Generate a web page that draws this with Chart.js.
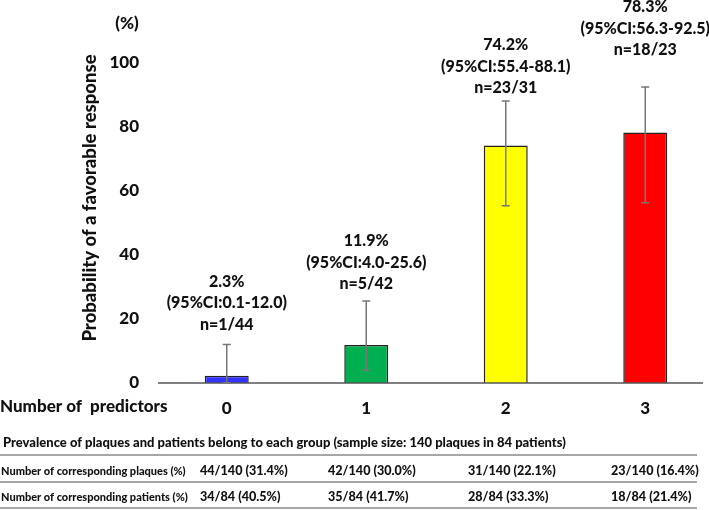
<!DOCTYPE html>
<html lang="en">
<head>
  <meta charset="UTF-8" />
  <title>Probability of a favorable response by number of predictors</title>
  <script src="https://cdn.jsdelivr.net/npm/chart.js"></script>
  <style>
    html, body { margin: 0; padding: 0; background: #fff; overflow: hidden; }
    .wrap { position: absolute; left: 0; top: 0; width: 715px; height: 510px; }
  </style>
</head>
<body>
  <div class="wrap">
    <canvas id="predChart" width="715" height="510"></canvas>
  </div>

  <script>
    // chart values
    const categories = ['0', '1', '2', '3'];
    const probability = [2.3, 11.9, 74.2, 78.3];
    const ciLow = [0.1, 4.0, 55.4, 56.3];
    const ciHigh = [12.0, 25.6, 88.1, 92.5];
    const responders = ['n=1/44', 'n=5/42', 'n=23/31', 'n=18/23'];

    // table under the chart
    const tableTitle = 'Prevalence of plaques and patients belong to each group (sample size: 140 plaques in 84 patients)';
    const rowLabels = ['Number of corresponding plaques (%)', 'Number of corresponding patients (%)'];
    const plaqueCounts = ['44/140 (31.4%)', '42/140 (30.0%)', '31/140 (22.1%)', '23/140 (16.4%)'];
    const patientCounts = ['34/84 (40.5%)', '35/84 (41.7%)', '28/84 (33.3%)', '18/84 (21.4%)'];

    const barColors = ['#3333ff', '#00b050', '#ffff00', '#ff0000'];
    const FONT = 'Lato, "DejaVu Sans", sans-serif';
    const INK = '#111';
    const W = '900';

    // how far each annotation block sits above its error bar (px)
    const labelLift = [20, 17, 13, 37];

    const extras = {
      id: 'extras',
      afterDatasetsDraw(chart) {
        const { ctx, chartArea } = chart;
        const x = chart.scales.x, y = chart.scales.y;

        // x axis line
        ctx.save();
        ctx.strokeStyle = '#555';
        ctx.lineWidth = 1.5;
        ctx.beginPath();
        ctx.moveTo(chartArea.left + 1, chartArea.bottom);
        ctx.lineTo(chartArea.right - 12, chartArea.bottom);
        ctx.stroke();

        // error bars
        ctx.strokeStyle = '#777';
        ctx.lineWidth = 1.5;
        categories.forEach((c, i) => {
          const cx = x.getPixelForValue(i);
          const top = y.getPixelForValue(ciHigh[i]);
          const bot = y.getPixelForValue(ciLow[i]);
          ctx.beginPath();
          ctx.moveTo(cx, top); ctx.lineTo(cx, bot);
          ctx.moveTo(cx - 4, top); ctx.lineTo(cx + 4, top);
          ctx.moveTo(cx - 4, bot); ctx.lineTo(cx + 4, bot);
          ctx.stroke();

          // annotation
          const lines = [
            probability[i].toFixed(1) + '%',
            '(95%CI:' + ciLow[i].toFixed(1) + '-' + ciHigh[i].toFixed(1) + ')',
            responders[i]
          ];
          ctx.fillStyle = INK;
          ctx.font = W + ' 16px ' + FONT;
          ctx.textAlign = 'center';
          ctx.textBaseline = 'middle';
          const last = top - labelLift[i];
          lines.forEach((t, k) => ctx.fillText(t, cx, last - (2 - k) * 21.5));
        });

        // axis captions
        ctx.fillStyle = INK;
        ctx.font = W + ' 17px ' + FONT;
        ctx.textAlign = 'center';
        ctx.fillText('(%)', 127, 24);
        ctx.textAlign = 'left';
        ctx.fillText('Number of  predictors', 0, 407);

        ctx.save();
        ctx.font = W + ' 18.5px ' + FONT;
        ctx.translate(90, 198);
        ctx.rotate(-Math.PI / 2);
        ctx.textAlign = 'center';
        ctx.fillText('Probability of a favorable response', 0, 0);
        ctx.restore();

        // table
        ctx.textAlign = 'left';
        ctx.font = W + ' 13px ' + FONT;
        ctx.fillText(tableTitle, 3, 443);

        ctx.strokeStyle = '#888';
        ctx.lineWidth = 1.5;
        [455, 482, 508].forEach(ly => {
          ctx.beginPath();
          ctx.moveTo(0, ly); ctx.lineTo(697, ly);
          ctx.stroke();
        });

        const colX = [200, 328, 468, 611];
        [plaqueCounts, patientCounts].forEach((row, r) => {
          const ry = r === 0 ? 471 : 497;
          ctx.font = W + ' 11px ' + FONT;
          ctx.fillText(rowLabels[r], 1, ry);
          ctx.font = W + ' 12.6px ' + FONT;
          row.forEach((v, j) => ctx.fillText(v, colX[j], ry));
        });
        ctx.restore();
      }
    };

    new Chart(document.getElementById('predChart'), {
      type: 'bar',
      data: {
        labels: categories,
        datasets: [{
          data: probability,
          backgroundColor: barColors,
          borderColor: '#222',
          borderWidth: 1.5,
          barPercentage: 0.315,
          categoryPercentage: 1
        }]
      },
      options: {
        responsive: false,
        animation: false,
        layout: { padding: { top: 63, bottom: 77, left: 0, right: 0 } },
        plugins: { legend: { display: false }, tooltip: { enabled: false } },
        scales: {
          x: {
            grid: { display: false, drawTicks: false },
            border: { display: false },
            ticks: { color: INK, font: { family: FONT, size: 17, weight: W }, padding: 15 },
            afterFit: s => { s.height = 50; }
          },
          y: {
            min: 0,
            max: 100,
            grid: { display: false, drawTicks: false },
            border: { display: false },
            ticks: { stepSize: 20, color: INK, font: { family: FONT, size: 17, weight: W }, padding: 18 },
            afterFit: s => { s.width = 157; }
          }
        }
      },
      plugins: [extras]
    });
  </script>
</body>
</html>
